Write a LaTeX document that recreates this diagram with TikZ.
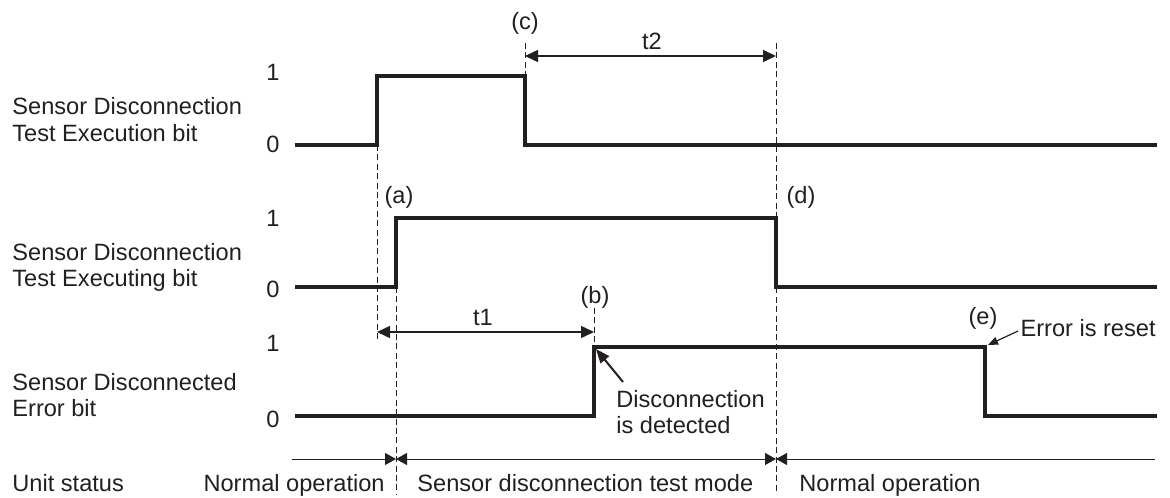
\documentclass[tikz,border=0pt]{standalone}
\usepackage{fontspec}
\setmainfont{Liberation Sans}
\usetikzlibrary{arrows.meta}
\definecolor{ink}{RGB}{35,31,32}
\begin{document}
\begin{tikzpicture}[x=0.5pt,y=-0.5pt, color=ink,
  txt/.style={inner sep=0pt, text=ink, font=\fontsize{11.8}{13}\selectfont},
  lbl/.style={txt, anchor=base west},
  lvl/.style={txt, anchor=base},
  sig/.style={line width=1.65pt, line join=miter, line cap=rect},
  guide/.style={line width=0.5pt, dash pattern=on 3pt off 1.7pt},
  dim/.style={line width=0.75pt, {Triangle[length=6.5pt,width=6pt]}-{Triangle[length=6.5pt,width=6pt]}},
  stat/.style={line width=0.5pt},
  tipR/.style={-{Triangle[length=5.5pt,width=6pt]}},
  tipL/.style={{Triangle[length=5.5pt,width=6pt]}-},
  tipLR/.style={{Triangle[length=5.5pt,width=6pt]}-{Triangle[length=5.5pt,width=6pt]}},
  callout/.style={line width=1pt, -{Triangle[length=7pt,width=5.5pt]}},
  callthin/.style={line width=0.6pt, -{Triangle[length=5pt,width=4pt]}}
]
\useasboundingbox (0,0) rectangle (1170,497);

% ---------- left labels ----------
\node[lbl] (l1a) at (12,115) {Sensor Disconnection};
\node[lbl] (l1b) at (12,142) {Test Execution bit};
\node[lbl] (l2a) at (12,260) {Sensor Disconnection};
\node[lbl] (l2b) at (12,286) {Test Executing bit};
\node[lbl] (l3a) at (12,390) {Sensor Disconnected};
\node[lbl] (l3b) at (12,416) {Error bit};

\node[lvl] (one1) at (273,81) {1};
\node[lvl] (zero1) at (273,153) {0};
\node[lvl] (one2) at (273,227) {1};
\node[lvl] (zero2) at (273,297) {0};
\node[lvl] (one3) at (273,351) {1};
\node[lvl] (zero3) at (273,427) {0};

% ---------- guide (dashed) lines ----------
\coordinate (ga1) at (377,145); \coordinate (ga2) at (377,342);
\coordinate (gb1) at (396,287); \coordinate (gb2) at (396,494);
\coordinate (gc1) at (525,43);  \coordinate (gc2) at (525,76);
\coordinate (gd1) at (594,308); \coordinate (gd2) at (594,347);
\coordinate (ge1) at (776,43);  \coordinate (ge2) at (776,494);
\draw[guide] (ga1) -- (ga2);
\draw[guide] (gb1) -- (gb2);
\draw[guide] (gc1) -- (gc2);
\draw[guide] (gd1) -- (gd2);
\draw[guide] (ge1) -- (ge2);

% ---------- signals ----------
\coordinate (p1) at (297,145); \coordinate (p2) at (377,145);
\coordinate (p3) at (377,76);  \coordinate (p4) at (525,76);
\coordinate (p5) at (525,145); \coordinate (p6) at (1155,145);
\draw[sig] (p1) -- (p2) -- (p3) -- (p4) -- (p5) -- (p6);

\coordinate (q1) at (297,287); \coordinate (q2) at (396,287);
\coordinate (q3) at (396,218); \coordinate (q4) at (776,218);
\coordinate (q5) at (776,287); \coordinate (q6) at (1155,287);
\draw[sig] (q1) -- (q2) -- (q3) -- (q4) -- (q5) -- (q6);

\coordinate (r1) at (297,416); \coordinate (r2) at (594,416);
\coordinate (r3) at (594,347); \coordinate (r4) at (985,347);
\coordinate (r5) at (985,416); \coordinate (r6) at (1155,416);
\draw[sig] (r1) -- (r2) -- (r3) -- (r4) -- (r5) -- (r6);

% ---------- event labels ----------
\node[lvl] (c) at (525,30) {(c)};
\node[lvl] (a) at (399,204) {(a)};
\node[lvl] (d) at (801,204) {(d)};
\node[lvl] (b) at (595,303) {(b)};
\node[lvl] (e) at (983,324) {(e)};

% ---------- time spans ----------
\coordinate (t2a) at (525,56); \coordinate (t2b) at (776,56);
\draw[dim] (t2a) -- (t2b);
\node[lvl] (t2) at (652,50) {t2};
\coordinate (t1a) at (377,332); \coordinate (t1b) at (594,332);
\draw[dim] (t1a) -- (t1b);
\node[lvl] (t1) at (483,325) {t1};

% ---------- callouts ----------
\node[lbl] (det1) at (616,407) {Disconnection};
\node[lbl] (det2) at (616,433) {is detected};
\coordinate (detA) at (623,382); \coordinate (detB) at (596,349);
\draw[callout] (detA) -- (detB);

\node[txt, anchor=base east] (reset) at (1156,336) {Error is reset};
\coordinate (rsA) at (1018,331); \coordinate (rsB) at (988,345);
\draw[callthin] (rsA) -- (rsB);

% ---------- unit status ----------
\coordinate (u0) at (292,459); \coordinate (u1) at (396,459);
\coordinate (u2) at (776,459); \coordinate (u3) at (1155,459);
\draw[stat, tipR] (u0) -- (u1);
\draw[stat, tipLR] (u1) -- (u2);
\draw[stat, tipL] (u2) -- (u3);

\node[lbl] (us) at (12,491) {Unit status};
\node[txt, anchor=base east] (st1) at (385,491) {Normal operation};
\node[lbl] (st2) at (417,491) {Sensor disconnection test mode};
\node[lbl] (st3) at (799,491) {Normal operation};
\end{tikzpicture}
\end{document}
